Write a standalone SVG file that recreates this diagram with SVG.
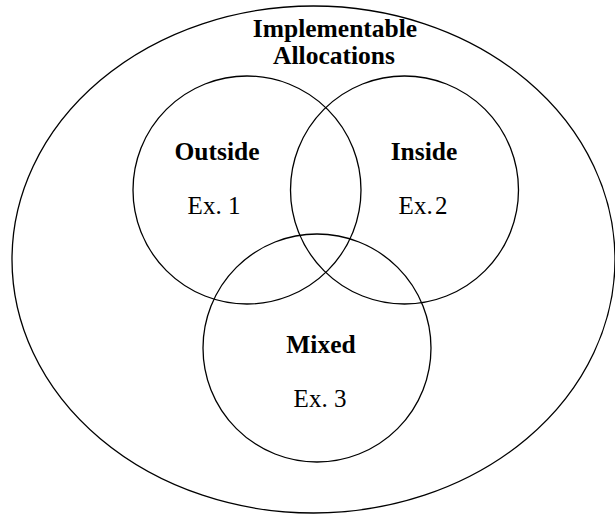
<svg xmlns="http://www.w3.org/2000/svg" width="615" height="515" viewBox="0 0 615 515">
<style>
.c{fill:none;stroke:#000;stroke-width:1.3}
.b{font-family:"Liberation Serif","Times New Roman",serif;font-weight:bold;font-size:25.5px;text-anchor:middle;fill:#000}
.r{font-family:"Liberation Serif","Times New Roman",serif;font-size:25px;text-anchor:middle;fill:#000}
</style>
<rect width="615" height="515" fill="#fff"/>
<g id="implementable">
<ellipse class="c" cx="313.5" cy="259.5" rx="301.5" ry="253.5"/>
<text class="b" x="335" y="37">Implementable</text>
<text class="b" x="334" y="64">Allocations</text>
</g>
<g id="outside">
<circle class="c" cx="247" cy="190" r="114"/>
<text class="b" x="217" y="160">Outside</text>
<text class="r" x="214" y="214">Ex. 1</text>
</g>
<g id="inside">
<circle class="c" cx="404.5" cy="190" r="114"/>
<text class="b" x="424" y="160">Inside</text>
<text class="r" x="423" y="214" word-spacing="-4">Ex. 2</text>
</g>
<g id="mixed">
<circle class="c" cx="317" cy="348" r="114"/>
<text class="b" x="321" y="353">Mixed</text>
<text class="r" x="320" y="407">Ex. 3</text>
</g>
</svg>
